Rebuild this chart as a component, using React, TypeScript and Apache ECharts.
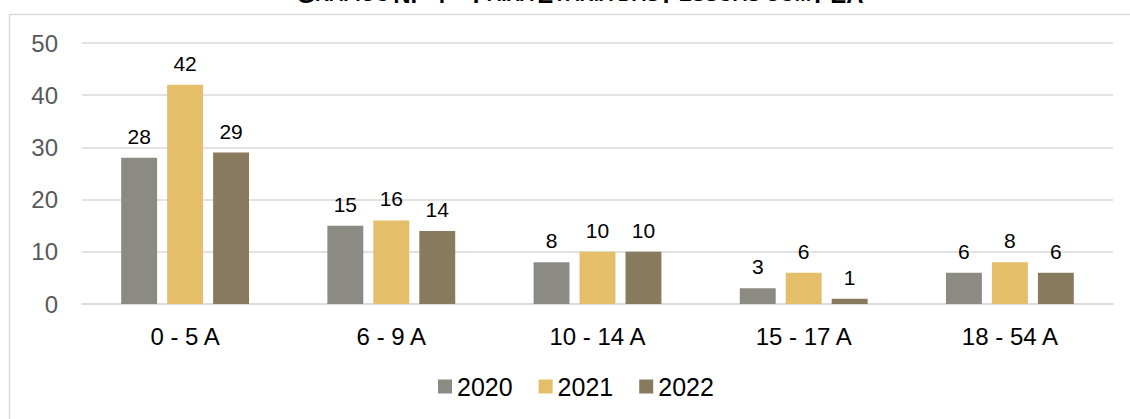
import React, { useEffect, useRef } from "react";
import * as echarts from "echarts";

const categories = ["0 - 5 A", "6 - 9 A", "10 - 14 A", "15 - 17 A", "18 - 54 A"];
const seriesNames = ["2020", "2021", "2022"];
const values2020 = [28, 15, 8, 3, 6];
const values2021 = [42, 16, 10, 6, 8];
const values2022 = [29, 14, 10, 1, 6];
const colors = ["#8B8B83", "#E4BE69", "#887A5E"];
const yTicks = { min: 0, max: 50, interval: 10 };

export default function App() {
  const ref = useRef<HTMLDivElement>(null);
  useEffect(() => {
    document.body.style.margin = "0";
    const chart = echarts.init(ref.current!, null, { renderer: "svg" });
    const font = "'Liberation Sans', Arial, sans-serif";
    const data = [values2020, values2021, values2022];
    chart.setOption({
      animation: false,
      textStyle: { fontFamily: font },
      graphic: [
        {
          type: "rect",
          shape: { x: 9.5, y: 14.5, width: 1140, height: 420 },
          style: { fill: "none", stroke: "#D9D9D9", lineWidth: 1.5 },
          z: -1,
        },
        {
          type: "text",
          x: 580,
          y: 6,
          style: {
            text: "{a|G}{b|RÁFICO} {a|N.º 4 – F}{b|AIXA} {a|E}{b|TÁRIA DAS} {a|P}{b|ESSOAS COM} {a|PEA}",
            textAlign: "center",
            textVerticalAlign: "bottom",
            rich: {
              a: { fontSize: 24, fontWeight: "bold", fill: "#000", fontFamily: font },
              b: { fontSize: 19.5, fontWeight: "bold", fill: "#000", fontFamily: font },
            },
          },
        },
      ],
      grid: { left: 82, right: 17, top: 43, bottom: 115 },
      legend: {
        data: seriesNames,
        bottom: 15,
        left: 433,
        itemWidth: 14,
        itemHeight: 14,
        itemGap: 26,
        icon: "rect",
        textStyle: { fontSize: 25, color: "#000", fontFamily: font },
      },
      xAxis: {
        type: "category",
        data: categories,
        axisLine: { lineStyle: { color: "#D9D9D9", width: 1.5 } },
        axisTick: { show: false },
        axisLabel: { fontSize: 24, color: "#000", margin: 20, fontFamily: font },
      },
      yAxis: {
        type: "value",
        min: yTicks.min,
        max: yTicks.max,
        interval: yTicks.interval,
        axisLine: { show: false },
        axisTick: { show: false },
        splitLine: { lineStyle: { color: "#D9D9D9", width: 1.5 } },
        axisLabel: { fontSize: 24, color: "#595959", margin: 24, fontFamily: font },
      },
      series: seriesNames.map((name, i) => ({
        name,
        type: "bar",
        data: data[i],
        barGap: "28%",
        barCategoryGap: "38%",
        itemStyle: { color: colors[i] },
        label: {
          show: true,
          position: "top",
          distance: 11,
          fontSize: 21,
          color: "#000",
          fontFamily: font,
        },
      })),
    });
    return () => chart.dispose();
  }, []);
  return <div ref={ref} style={{ width: 1130, height: 419 }} />;
}
